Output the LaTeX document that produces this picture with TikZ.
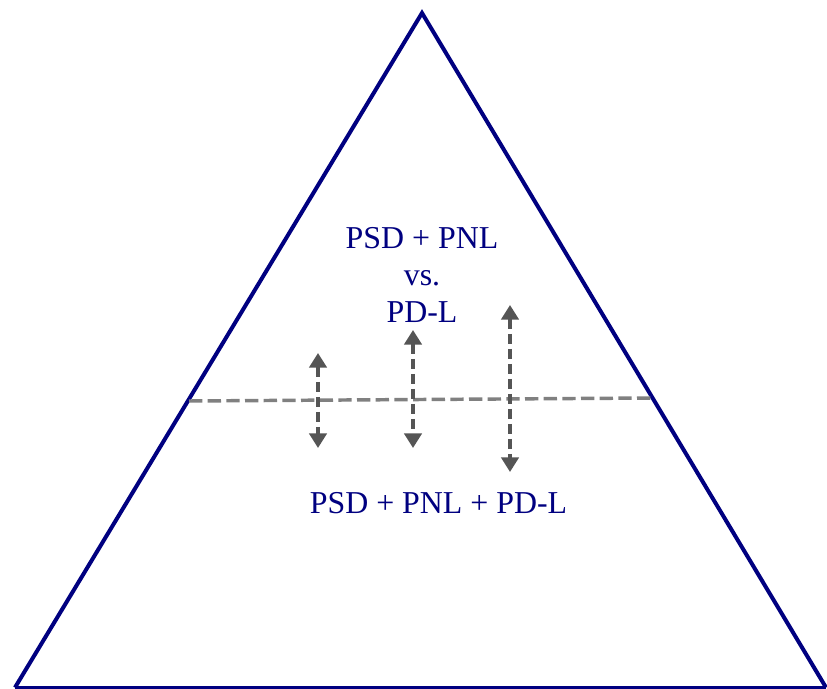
\documentclass[tikz,border=0pt]{standalone}
\usepackage{fontspec}
\setmainfont{Liberation Serif}
\usetikzlibrary{arrows.meta, positioning}
\definecolor{pyrNavy}{HTML}{000080}
\definecolor{pyrArrow}{HTML}{555555}
\definecolor{pyrSplit}{HTML}{808080}

\begin{document}
\begin{tikzpicture}[
  x=0.75pt, y=-0.75pt,
  lbl/.style={font=\fontsize{23.9}{27.75}\selectfont, text=pyrNavy, inner sep=0pt, align=center},
  pyrside/.style={draw=pyrNavy, line width=3pt, line join=miter},
  splitline/.style={draw=pyrSplit, line width=2.6pt, dash pattern=on 10pt off 4pt},
  moverarrow/.style={draw=pyrArrow, line width=2.6pt, dash pattern=on 7.5pt off 3.75pt,
    {Triangle[width=13pt,length=11pt]}-{Triangle[width=13pt,length=11pt]}},
]
\useasboundingbox (0,0) rectangle (827,688);

% corners of the pyramid
\coordinate (apex) at (422,13);
\coordinate (baseL) at (15,687.5);
\coordinate (baseR) at (826,687.5);
\draw[pyrside] (baseL) -- (apex) -- (baseR);
\draw[draw=pyrNavy, line width=2pt] (baseL) -- (baseR);

% the split across the pyramid
\coordinate (splitL) at (189,401);
\coordinate (splitR) at (652,398);
\draw[splitline] (splitL) -- (splitR);

% labels above and below
\node[lbl, anchor=base] (upper) at (422,322) {PSD + PNL\\vs.\\PD-L};
\node[lbl, anchor=base] (lower) at (438.5,513) {PSD + PNL + PD-L};

% movers across the split
\foreach \name/\x/\ya/\yb in {one/318/353/448, two/413/330/448, three/510/305/472} {
  \coordinate (\name top) at (\x,\ya);
  \coordinate (\name bot) at (\x,\yb);
  \draw[moverarrow] (\name top) -- (\name bot);
}
\end{tikzpicture}
\end{document}
